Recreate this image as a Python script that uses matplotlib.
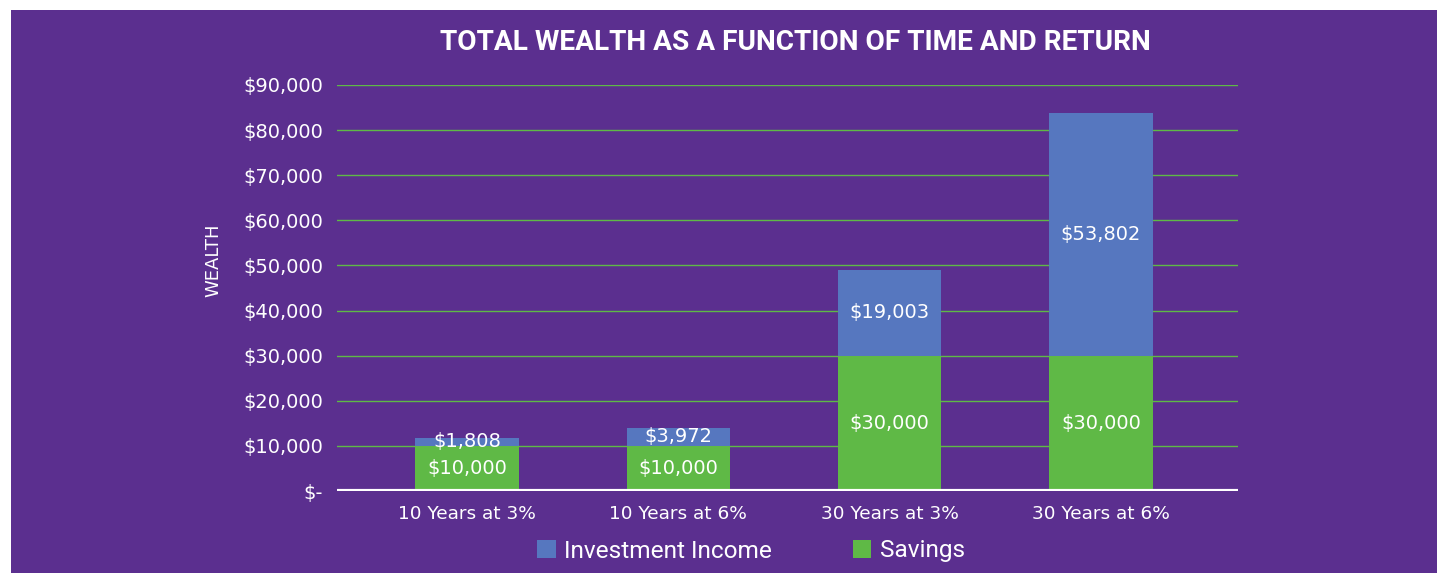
import matplotlib
matplotlib.use("Agg")
import matplotlib.pyplot as plt
from matplotlib.patches import Rectangle
import numpy as np

categories = ["10 Years at 3%", "10 Years at 6%", "30 Years at 3%", "30 Years at 6%"]
savings = [10000, 10000, 30000, 30000]
investment_income = [1808, 3972, 19003, 53802]
yticks = [0, 10000, 20000, 30000, 40000, 50000, 60000, 70000, 80000, 90000]
ytick_labels = ["$-", "$10,000", "$20,000", "$30,000", "$40,000", "$50,000",
                "$60,000", "$70,000", "$80,000", "$90,000"]

PURPLE = "#5b2f8f"
BLUE = "#5677bf"
GREEN = "#5fb946"
FONT = "Roboto"
NUMFONT = "DejaVu Sans"

W, H = 1437, 573
fig = plt.figure(figsize=(W / 100, H / 100), dpi=100, facecolor="white")
fig.patches.append(Rectangle((11 / W, 0), 1 - 11 / W, (H - 10) / H,
                             transform=fig.transFigure, facecolor=PURPLE,
                             edgecolor="none", zorder=-10))

ax = fig.add_axes([337 / W, 1 - 491 / H, (1238 - 337) / W, (491 - 85) / H])
ax.set_facecolor("none")
ax.set_zorder(1)

x = np.arange(len(categories))
bw = 0.49
ax.bar(x, savings, bw, color=GREEN, label="Savings", zorder=3)
ax.bar(x, investment_income, bw, bottom=savings, color=BLUE,
       label="Investment Income", zorder=3)

for xi, s, inv in zip(x, savings, investment_income):
    ax.text(xi, s / 2, f"${s:,}", ha="center", va="center", color="white",
            fontsize=14, family=NUMFONT, zorder=5)
    ax.text(xi, s + inv / 2, f"${inv:,}", ha="center", va="center",
            color="white", fontsize=14, family=NUMFONT, zorder=5)

ax.set_xlim(-0.615, 3.648)
ax.set_ylim(0, 90000)
ax.set_yticks(yticks)
ax.set_yticklabels(ytick_labels)
ax.set_xticks(x)
ax.set_xticklabels(categories)
for lab in ax.get_yticklabels():
    lab.set_family(NUMFONT)
    lab.set_fontsize(14)
    lab.set_color("white")
for lab in ax.get_xticklabels():
    lab.set_family(NUMFONT)
    lab.set_fontsize(13.3)
    lab.set_color("white")
ax.tick_params(axis="both", length=0)
ax.tick_params(axis="y", pad=10)
ax.tick_params(axis="x", pad=10)

for y in yticks[1:]:
    ax.axhline(y, color=GREEN, lw=1.0, zorder=1)
ax.axhline(0, color="white", lw=3, zorder=4)

for sp in ax.spines.values():
    sp.set_visible(False)

fig.text(213 / W, 1 - 260 / H, "WEALTH", rotation=90, ha="center", va="center",
         color="white", fontsize=13, family=NUMFONT)

fig.text(795 / W, 1 - 42 / H, "TOTAL WEALTH AS A FUNCTION OF TIME AND RETURN",
         ha="center", va="center", color="white", fontsize=20.2,
         fontweight="bold", family=FONT)

handles, labels = ax.get_legend_handles_labels()
leg = fig.legend(handles[::-1], labels[::-1], loc="center",
                 bbox_to_anchor=(751 / W, 1 - 551 / H), ncol=2, frameon=False,
                 handlelength=0.75, handleheight=0.75, handletextpad=0.35,
                 columnspacing=3.3, prop={"family": FONT, "size": 17.6})
for t in leg.get_texts():
    t.set_color("white")

fig.savefig("out.png", dpi=100, facecolor=fig.get_facecolor())
